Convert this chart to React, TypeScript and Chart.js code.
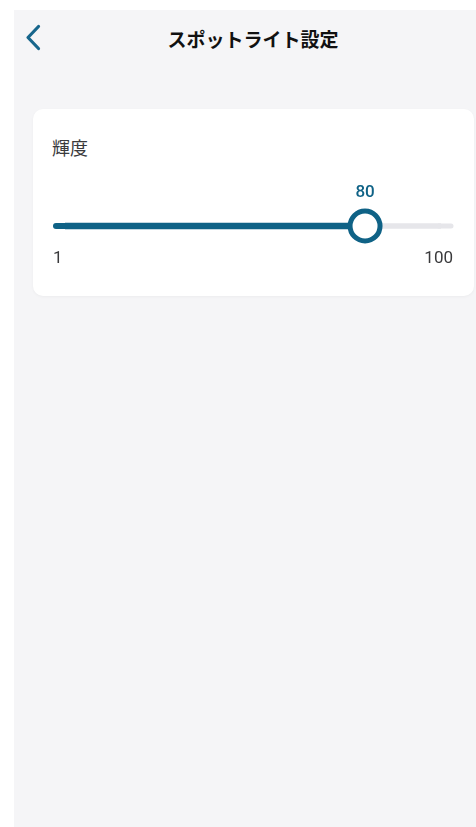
import React, { useEffect, useRef } from "react";
import { Chart, registerables } from "chart.js";

Chart.register(...registerables);

const TITLE = "スポットライト設定";
const SETTING_LABELS = ["輝度"];
const SLIDER_MIN = [1];
const SLIDER_MAX = [100];
const SLIDER_VALUES = [80];
const TICK_LABELS = ["1", "100"];

const BLUE = "#0f6286";
const TRACK_GRAY = "#e6e6ea";
const TEXT_DARK = "#3a3a3c";
const INSET = 12;

const sliderPlugin = {
  id: "sliderDecor",
  beforeDatasetsDraw(chart: any) {
    const { ctx, scales } = chart;
    const xs = scales.x;
    const ys = scales.y;
    const y = ys.getPixelForValue(0);
    const left = xs.getPixelForValue(SLIDER_MIN[0]);
    const right = xs.getPixelForValue(SLIDER_MAX[0]);
    ctx.save();
    ctx.lineCap = "round";
    ctx.lineWidth = 5;
    ctx.strokeStyle = TRACK_GRAY;
    ctx.beginPath();
    ctx.moveTo(right - 2, y);
    ctx.lineTo(right + INSET - 2, y);
    ctx.stroke();
    ctx.lineWidth = 6;
    ctx.strokeStyle = BLUE;
    ctx.beginPath();
    ctx.moveTo(left - INSET + 3, y);
    ctx.lineTo(left + 2, y);
    ctx.stroke();
    ctx.restore();
  },
  afterDatasetsDraw(chart: any) {
    const { ctx, scales } = chart;
    const xs = scales.x;
    const ys = scales.y;
    const y = ys.getPixelForValue(0);
    const left = xs.getPixelForValue(SLIDER_MIN[0]);
    const right = xs.getPixelForValue(SLIDER_MAX[0]);
    const vx = xs.getPixelForValue(SLIDER_VALUES[0]);
    ctx.save();
    ctx.textBaseline = "middle";
    ctx.font = "500 17px Roboto, 'Noto Sans', sans-serif";
    ctx.fillStyle = BLUE;
    ctx.textAlign = "center";
    ctx.fillText(String(SLIDER_VALUES[0]), vx, y - 33);
    ctx.font = "400 17px Roboto, 'Noto Sans', sans-serif";
    ctx.fillStyle = TEXT_DARK;
    ctx.textAlign = "left";
    ctx.fillText(TICK_LABELS[0], left - INSET, y + 33);
    ctx.textAlign = "right";
    ctx.fillText(TICK_LABELS[1], right + INSET, y + 33);
    ctx.restore();
  },
};

function SliderChart() {
  const ref = useRef<HTMLCanvasElement | null>(null);
  useEffect(() => {
    if (!ref.current) return;
    const chart = new Chart(ref.current, {
      type: "bar",
      data: {
        labels: SETTING_LABELS,
        datasets: [
          {
            type: "line",
            data: SLIDER_VALUES,
            indexAxis: "y",
            showLine: false,
            pointRadius: 15,
            pointBorderWidth: 5,
            pointBackgroundColor: "#ffffff",
            pointBorderColor: BLUE,
            clip: false,
            order: 0,
          } as any,
          {
            type: "bar",
            data: SLIDER_VALUES.map((v, i) => [SLIDER_MIN[i], v]),
            backgroundColor: BLUE,
            barThickness: 6,
            grouped: false,
            order: 1,
          } as any,
          {
            type: "bar",
            data: SLIDER_MAX.map((v, i) => [SLIDER_MIN[i], v]),
            backgroundColor: TRACK_GRAY,
            barThickness: 5,
            grouped: false,
            order: 2,
          } as any,
        ],
      },
      options: {
        indexAxis: "y",
        animation: false,
        responsive: false,
        events: [],
        layout: { padding: { left: 32, right: 33, top: 97, bottom: 50 } },
        scales: {
          x: { type: "linear", min: SLIDER_MIN[0], max: SLIDER_MAX[0], display: false },
          y: { type: "category", display: false },
        },
        plugins: { legend: { display: false }, tooltip: { enabled: false } },
      },
      plugins: [sliderPlugin],
    } as any);
    return () => chart.destroy();
  }, []);
  return (
    <canvas
      ref={ref}
      width={441}
      height={187}
      style={{ position: "absolute", left: 0, top: 0, width: 441, height: 187 }}
    />
  );
}

export default function App() {
  const jp = "'Noto Sans CJK JP', 'Noto Sans', sans-serif";
  return (
    <div style={{ position: "fixed", left: 0, top: 0, width: 476, height: 827, background: "#ffffff", overflow: "hidden" }}>
      <div style={{ position: "absolute", left: 14, top: 10, width: 462, height: 817, background: "#f5f5f7" }} />
      <svg width={476} height={60} style={{ position: "absolute", left: 0, top: 0 }}>
        <polyline points="38.5,26.5 28,37.5 38.5,48.5" fill="none" stroke="#17668c" strokeWidth={3.2} strokeLinecap="round" strokeLinejoin="round" />
      </svg>
      <div style={{ position: "absolute", left: 0, top: 25, width: 506, textAlign: "center", fontFamily: jp, fontWeight: 700, fontSize: 19, lineHeight: "28px", color: "#111" }}>
        {TITLE}
      </div>
      <div style={{ position: "absolute", left: 33, top: 109, width: 441, height: 187, background: "#fff", borderRadius: 10, boxShadow: "0 1px 3px rgba(0,0,0,0.04)" }}>
        <div style={{ position: "absolute", left: 19, top: 25, fontFamily: jp, fontSize: 18, lineHeight: "26px", color: TEXT_DARK }}>
          {SETTING_LABELS[0]}
        </div>
        <SliderChart />
      </div>
    </div>
  );
}
